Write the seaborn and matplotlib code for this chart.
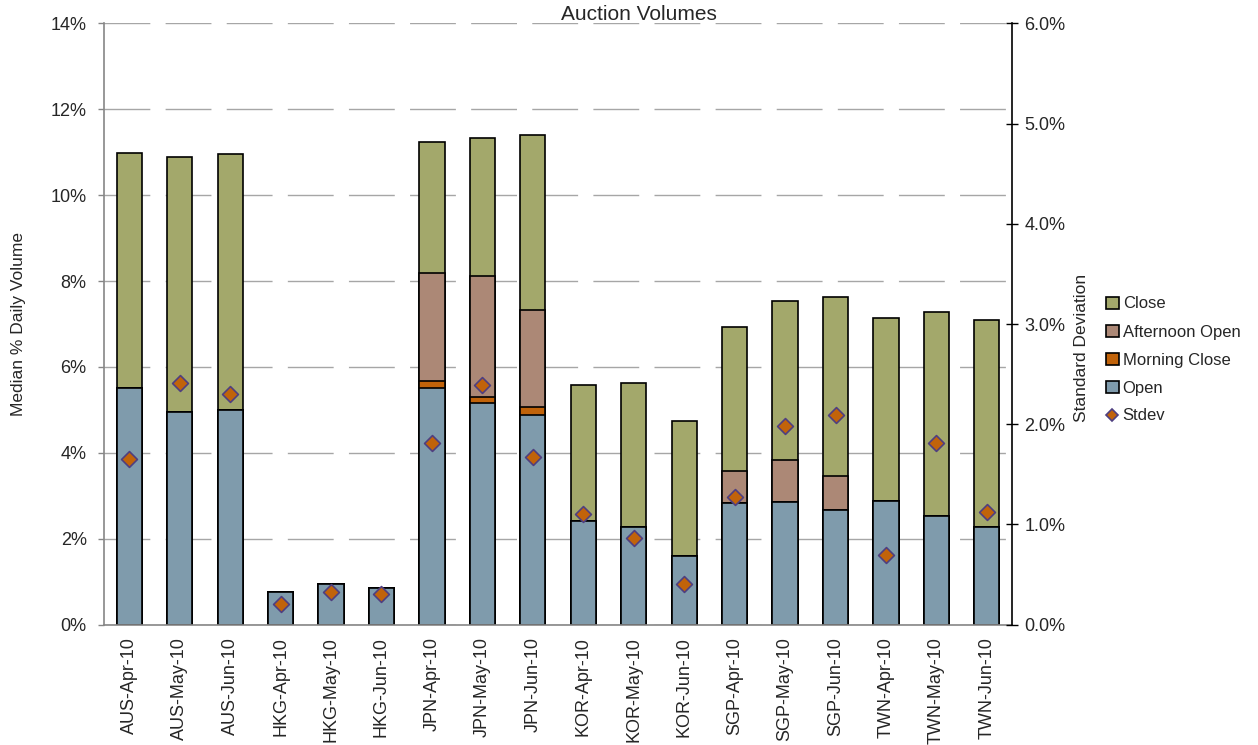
import numpy as np
import pandas as pd
import matplotlib
matplotlib.use("Agg")
import matplotlib.pyplot as plt
from matplotlib.patches import Patch
from matplotlib.lines import Line2D
from matplotlib.ticker import FuncFormatter, MultipleLocator
import seaborn as sns

# Auction volume components (median % of daily volume) per market-month
categories = ["AUS-Apr-10", "AUS-May-10", "AUS-Jun-10",
              "HKG-Apr-10", "HKG-May-10", "HKG-Jun-10",
              "JPN-Apr-10", "JPN-May-10", "JPN-Jun-10",
              "KOR-Apr-10", "KOR-May-10", "KOR-Jun-10",
              "SGP-Apr-10", "SGP-May-10", "SGP-Jun-10",
              "TWN-Apr-10", "TWN-May-10", "TWN-Jun-10"]
open_vol = [5.52, 4.94, 4.99, 0.76, 0.94, 0.86, 5.50, 5.16, 4.87,
            2.41, 2.27, 1.59, 2.82, 2.85, 2.67, 2.88, 2.52, 2.27]
morning_close = [0, 0, 0, 0, 0, 0, 0.17, 0.14, 0.20,
                 0, 0, 0, 0, 0, 0, 0, 0, 0]
afternoon_open = [0, 0, 0, 0, 0, 0, 2.51, 2.82, 2.25,
                  0, 0, 0, 0.75, 0.98, 0.78, 0, 0, 0]
close_vol = [5.46, 5.96, 5.97, 0, 0, 0, 3.07, 3.22, 4.08,
             3.16, 3.35, 3.16, 3.37, 3.70, 4.17, 4.25, 4.77, 4.83]
stdev = [1.65, 2.41, 2.30, 0.20, 0.32, 0.30, 1.81, 2.39, 1.67,
         1.10, 0.86, 0.40, 1.27, 1.98, 2.09, 0.69, 1.81, 1.12]

colors = {"Close": "#A3A86B", "Afternoon Open": "#AC8876",
          "Morning Close": "#C1630A", "Open": "#7F9BAC"}

sns.set_theme(style="white")
plt.rcParams["font.family"] = ["Liberation Sans", "DejaVu Sans"]

df = pd.DataFrame({"cat": categories, "Open": open_vol,
                   "Morning Close": morning_close,
                   "Afternoon Open": afternoon_open, "Close": close_vol,
                   "Stdev": stdev})
# cumulative heights for layered (stacked) bars
df["lvl_open"] = df["Open"]
df["lvl_mc"] = df["lvl_open"] + df["Morning Close"]
df["lvl_ao"] = df["lvl_mc"] + df["Afternoon Open"]
df["lvl_close"] = df["lvl_ao"] + df["Close"]

fig = plt.figure(figsize=(12.58, 7.45), dpi=100)
ax = fig.add_axes([0.0827, 0.1617, 0.7218, 0.8068])

bar_kw = dict(width=0.5, edgecolor="black", linewidth=1.2, saturation=1,
              order=categories, ax=ax, zorder=2)
for col, name in [("lvl_close", "Close"), ("lvl_ao", "Afternoon Open"),
                  ("lvl_mc", "Morning Close"), ("lvl_open", "Open")]:
    sns.barplot(data=df, x="cat", y=col, color=colors[name], **bar_kw)

ax.set_xlim(-0.5, len(categories) - 0.5)
ax.set_ylim(0, 14)
ax.yaxis.set_major_locator(MultipleLocator(2))
ax.yaxis.set_major_formatter(FuncFormatter(lambda v, p: f"{v:.0f}%"))
ax.set_xlabel("")
ax.set_ylabel("")
ax.set_axisbelow(True)
ax.grid(axis="y", color="#A6A6A6", linewidth=1.0, linestyle=(0, (33, 11)))
ax.grid(axis="x", visible=False)
ax.tick_params(axis="y", direction="out", length=4.5, width=1, color="#868686",
               labelsize=13, pad=8, left=True)
ax.tick_params(axis="x", length=0, labelsize=13, pad=9)
plt.setp(ax.get_xticklabels(), rotation=90)
for s in ["top", "right"]:
    ax.spines[s].set_visible(False)
for s in ["left", "bottom"]:
    ax.spines[s].set_color("#868686")
    ax.spines[s].set_linewidth(1.2)

# standard deviation on the secondary axis
ax2 = ax.twinx()
sns.scatterplot(x=np.arange(len(categories)), y=df["Stdev"], ax=ax2,
                marker="D", s=65, color="#C1630A", edgecolor="#4F3F80",
                linewidth=1.2, zorder=5, legend=False)
ax2.set_ylim(0, 6)
ax2.yaxis.set_major_locator(MultipleLocator(1))
ax2.yaxis.set_major_formatter(FuncFormatter(lambda v, p: f"{v:.1f}%"))
ax2.set_ylabel("")
ax2.tick_params(axis="y", direction="inout", length=8, width=1, color="black",
                labelsize=13, pad=5, right=True)
for s in ["top", "left", "bottom"]:
    ax2.spines[s].set_visible(False)
ax2.spines["right"].set_color("black")
ax2.spines["right"].set_linewidth(1.2)

fig.text(639 / 1258, 1 - 15 / 745, "Auction Volumes", ha="center",
         va="center", fontsize=15)
fig.text(19 / 1258, 1 - 324 / 745, "Median % Daily Volume", rotation=90,
         ha="center", va="center", fontsize=12.5)
fig.text(1082 / 1258, 1 - 348 / 745, "Standard Deviation", rotation=90,
         ha="center", va="center", fontsize=12.5)

handles = [Patch(facecolor=colors[n], edgecolor="black", linewidth=1.2, label=n)
           for n in ["Close", "Afternoon Open", "Morning Close", "Open"]]
handles.append(Line2D([], [], marker="D", linestyle="none", markersize=6.5,
                      markerfacecolor="#C1630A", markeredgecolor="#4F3F80",
                      markeredgewidth=1.2, label="Stdev"))
fig.legend(handles=handles, loc="center left",
           bbox_to_anchor=(1106 / 1258, 1 - 360 / 745), frameon=False,
           fontsize=12, handlelength=0.75, handleheight=0.75,
           handletextpad=0.25, labelspacing=0.78, borderpad=0, borderaxespad=0)

fig.savefig("out.png", dpi=100)
